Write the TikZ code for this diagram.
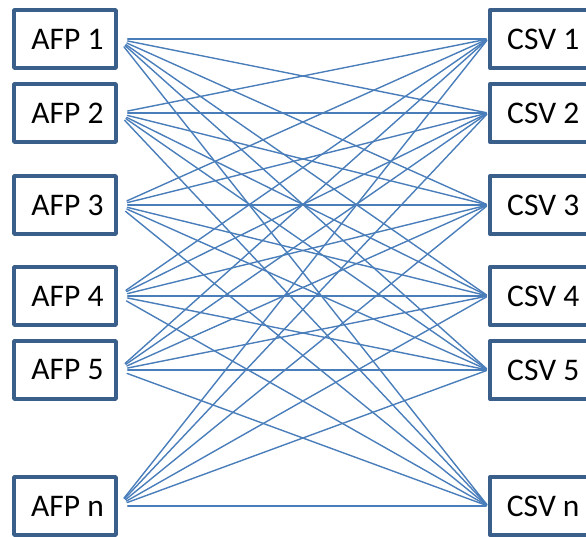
\documentclass[tikz,border=0pt]{standalone}
\usepackage{fontspec}
\setmainfont{Carlito}
\definecolor{boxcol}{HTML}{3A5F8B}
\definecolor{linkcol}{HTML}{4A7EBB}
\begin{document}
\begin{tikzpicture}[x=1pt,y=-1pt, font=\fontsize{31.5}{36}\selectfont, line join=round, line cap=round,
	box/.style={draw=boxcol, line width=3.5pt, minimum width=102pt, minimum height=58pt, inner sep=0pt},
	link/.style={draw=linkcol, line width=1.4pt, shorten <=10pt, shorten >=1.8pt}]
	\useasboundingbox (0,0) rectangle (586,537);
	\clip (0,0) rectangle (586,537);
	% Boxes
	\foreach \k/\y in {1/39,2/113,3/205,4/296,5/370,n/506}{
		\node[box] (afp\k) at (65,\y) {\hspace*{5pt}AFP \k};
		\node[box] (csv\k) at (540.75,\y) {\hspace*{5pt}CSV \k};
	}
	% Links
	\foreach \i in {1,2,3,4,5,n}
	\foreach \j in {1,2,3,4,5,n}
	\draw[link] (afp\i.east) -- (csv\j.west);
\end{tikzpicture}
\end{document}
